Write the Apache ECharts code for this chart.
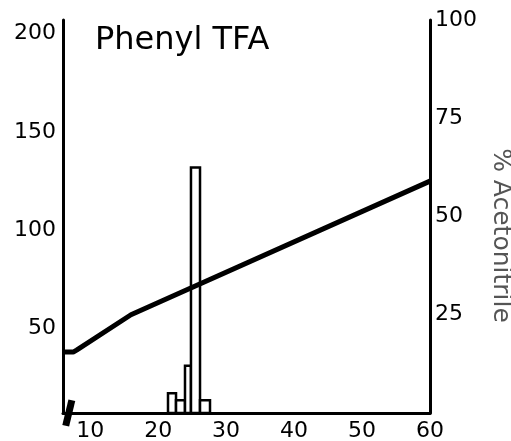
<!DOCTYPE html>
<html>
<head>
<meta charset="utf-8">
<script src="https://cdn.jsdelivr.net/npm/echarts@6/dist/echarts.min.js"></script>
<style>html,body{margin:0;padding:0;background:#fff}#c{width:511px;height:441px}</style>
</head>
<body>
<div id="c"></div>
<script>
// Data
const titleText = 'Phenyl TFA';
const rightAxisName = '% Acetonitrile';
const xTickLabels = [10, 20, 30, 40, 50, 60];
const leftTickLabels = [50, 100, 150, 200];
const rightTickLabels = [25, 50, 75, 100];
// gradient line: [time, % acetonitrile]
const gradientX = [6, 7.5, 8, 16, 60];
const gradientY = [15.5, 15.5, 16, 25, 59];
// peaks: start time, end time, height (left axis)
const peakStart = [21.45, 22.63, 23.95, 24.83, 26.16];
const peakEnd   = [22.63, 23.95, 24.83, 26.16, 27.63];
const peakHeight= [17, 13.5, 31, 132, 13.5];
// injection mark
const injX = [6.4, 7.3];
const injY = [0.5, 13.5];

const X_MIN = 6, X_MAX = 60, L_MIN = 7, L_MAX = 207, R_MIN = 0, R_MAX = 100;
const FONT = 'DejaVu Sans';

const chart = echarts.init(document.getElementById('c'), null, {renderer: 'canvas'});
const peaks = peakStart.map((s, i) => [s, peakEnd[i], peakHeight[i]]);
const gradient = gradientX.map((x, i) => [x, gradientY[i]]);
const inj = injX.map((x, i) => [x, injY[i]]);

chart.setOption({
  animation: false,
  backgroundColor: '#fff',
  title: {
    text: titleText, left: 90, top: 20,
    textStyle: {fontFamily: FONT, fontSize: 32, fontWeight: 'normal', color: '#000'}
  },
  grid: {left: 63, right: 81, top: 20, bottom: 28, containLabel: false, outerBoundsMode: 'none'},
  xAxis: {
    type: 'value', min: X_MIN, max: X_MAX,
    axisLine: {show: true, onZero: false, lineStyle: {color: '#000', width: 3}},
    axisTick: {show: false},
    splitLine: {show: false},
    axisLabel: {customValues: xTickLabels, color: '#000', fontFamily: FONT, fontSize: 22, margin: 7}
  },
  yAxis: [
    {
      type: 'value', min: L_MIN, max: L_MAX, position: 'left',
      axisLine: {show: true, lineStyle: {color: '#000', width: 3}},
      axisTick: {show: false}, splitLine: {show: false},
      axisLabel: {customValues: leftTickLabels, color: '#000', fontFamily: FONT, fontSize: 22, margin: 7}
    },
    {
      type: 'value', min: R_MIN, max: R_MAX, position: 'right',
      name: rightAxisName, nameLocation: 'middle', nameRotate: -90, nameGap: 58,
      nameTextStyle: {color: '#555', fontFamily: FONT, fontSize: 25, padding: [0, 0, 0, 38]},
      axisLine: {show: true, lineStyle: {color: '#000', width: 3}},
      axisTick: {show: false}, splitLine: {show: false},
      axisLabel: {customValues: rightTickLabels, color: '#000', fontFamily: FONT, fontSize: 22, margin: 5}
    }
  ],
  series: [
    {
      type: 'custom', yAxisIndex: 0, z: 2,
      encode: {x: [0, 1], y: 2},
      data: peaks,
      renderItem: function (params, api) {
        const p0 = api.coord([api.value(0), api.value(2)]);
        const p1 = api.coord([api.value(1), L_MIN]);
        return {
          type: 'rect',
          shape: {x: p0[0], y: p0[1], width: p1[0] - p0[0], height: p1[1] - p0[1]},
          style: {fill: '#fff', stroke: '#000', lineWidth: 2.5}
        };
      }
    },
    {
      type: 'line', yAxisIndex: 1, z: 3, data: gradient, symbol: 'none',
      lineStyle: {color: '#000', width: 5}
    },
    {
      type: 'line', yAxisIndex: 0, z: 4, data: inj, symbol: 'none', clip: false,
      lineStyle: {color: '#000', width: 7}
    }
  ]
});
</script>
</body>
</html>
